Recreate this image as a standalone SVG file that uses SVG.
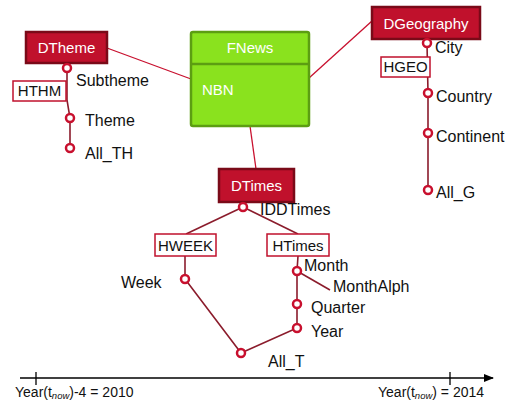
<svg xmlns="http://www.w3.org/2000/svg" width="506" height="408" viewBox="0 0 506 408">
<style>
text{font-family:"Liberation Sans",Arial,sans-serif;font-size:16px;fill:#111}
.dim rect{fill:#C0112C;stroke:#7A0A18;stroke-width:2.5}
.dim text{fill:#fff;text-anchor:middle;font-size:15px}
.hb rect{fill:#fff;stroke:#C0112C;stroke-width:1.5}
.hb text{text-anchor:middle;font-size:15px}
.lv circle{fill:#fff;stroke:#C8102E;stroke-width:2.5}
.h{stroke:#8B1C2C;stroke-width:1.6;fill:none}
.c{stroke:#C8102E;stroke-width:1.3;fill:none}
.ax{stroke:#000;stroke-width:1.3;fill:none}
.al{font-size:14px}
.fn{fill:#fff;font-size:15px}
</style>
<defs>
<marker id="arr" markerWidth="10" markerHeight="8" refX="9" refY="4" orient="auto" markerUnits="userSpaceOnUse">
<path d="M0,0 L10,4 L0,8 Z" fill="#000"/>
</marker>
</defs>
<g id="connectors">
<line class="c" x1="107" y1="48" x2="191" y2="79"/>
<line class="c" x1="309" y1="78" x2="372" y2="21"/>
<line class="c" x1="250" y1="126" x2="256" y2="169"/>
<polyline class="h" points="67,68 67,100 70,118 70,148"/>
<polyline class="h" points="427,43 428,93 428,190"/>
<line class="h" x1="243" y1="207" x2="186" y2="234"/>
<line class="h" x1="243" y1="207" x2="298" y2="234"/>
<line class="h" x1="185" y1="256" x2="185" y2="279"/>
<polyline class="h" points="185,279 241,353 297,328 297,271 298,256"/>
<line class="h" x1="297" y1="271" x2="330" y2="290"/>
</g>
<g id="FNews">
<rect x="191" y="32" width="118" height="94" rx="2" fill="#8AE21E" stroke="#5C9E12" stroke-width="2.5"/>
<line x1="191" y1="64" x2="309" y2="64" stroke="#5C9E12" stroke-width="2.5"/>
<text class="fn" x="250" y="53" text-anchor="middle">FNews</text>
<text class="fn" x="202" y="95">NBN</text>
</g>
<g id="DTheme" class="dim"><rect x="26" y="32" width="81" height="31"/><text x="66.5" y="53">DTheme</text></g>
<g id="DGeography" class="dim"><rect x="372" y="7" width="108" height="32"/><text x="426" y="29">DGeography</text></g>
<g id="DTimes" class="dim"><rect x="219" y="169" width="75" height="33"/><text x="256.5" y="191">DTimes</text></g>
<g id="HTHM" class="hb"><rect x="13" y="81" width="53" height="20"/><text x="39.5" y="96">HTHM</text></g>
<g id="HGEO" class="hb"><rect x="381" y="57" width="49" height="20"/><text x="405.5" y="72">HGEO</text></g>
<g id="HWEEK" class="hb"><rect x="155" y="234" width="61" height="22"/><text x="185.5" y="251">HWEEK</text></g>
<g id="HTimes" class="hb"><rect x="267" y="234" width="62" height="22"/><text x="298" y="251">HTimes</text></g>
<g id="Subtheme" class="lv"><circle cx="67" cy="68" r="4"/><text x="76" y="86">Subtheme</text></g>
<g id="Theme" class="lv"><circle cx="70" cy="118" r="4"/><text x="85" y="126">Theme</text></g>
<g id="All_TH" class="lv"><circle cx="70" cy="148" r="4"/><text x="85" y="159">All_TH</text></g>
<g id="City" class="lv"><circle cx="427" cy="43" r="4"/><text x="435" y="53">City</text></g>
<g id="Country" class="lv"><circle cx="428" cy="93" r="4"/><text x="436" y="102">Country</text></g>
<g id="Continent" class="lv"><circle cx="428" cy="133" r="4"/><text x="436" y="142">Continent</text></g>
<g id="All_G" class="lv"><circle cx="428" cy="190" r="4"/><text x="436" y="198">All_G</text></g>
<g id="IDDTimes" class="lv"><circle cx="243" cy="207" r="4"/><text x="260" y="215">IDDTimes</text></g>
<g id="Week" class="lv"><circle cx="185" cy="279" r="4"/><text x="121" y="288">Week</text></g>
<g id="All_T" class="lv"><circle cx="241" cy="353" r="4"/><text x="268" y="367">All_T</text></g>
<g id="Year" class="lv"><circle cx="297" cy="328" r="4"/><text x="311" y="337">Year</text></g>
<g id="Quarter" class="lv"><circle cx="297" cy="304" r="4"/><text x="311" y="313">Quarter</text></g>
<g id="Month" class="lv"><circle cx="297" cy="271" r="4"/><text x="304" y="271">Month</text></g>
<g id="MonthAlph"><text x="333" y="292">MonthAlph</text></g>
<g id="axis">
<line class="ax" x1="20" y1="378" x2="493" y2="378" marker-end="url(#arr)"/>
<line class="ax" x1="36" y1="372" x2="36" y2="385"/>
<line class="ax" x1="450" y1="372" x2="450" y2="385"/>
<text class="al" x="15" y="397">Year(t<tspan font-size="9.5" font-style="italic" dy="2">now</tspan><tspan dy="-2">)-4 = 2010</tspan></text>
<text class="al" x="378" y="397">Year(t<tspan font-size="9.5" font-style="italic" dy="2">now</tspan><tspan dy="-2">) = 2014</tspan></text>
</g>
</svg>
